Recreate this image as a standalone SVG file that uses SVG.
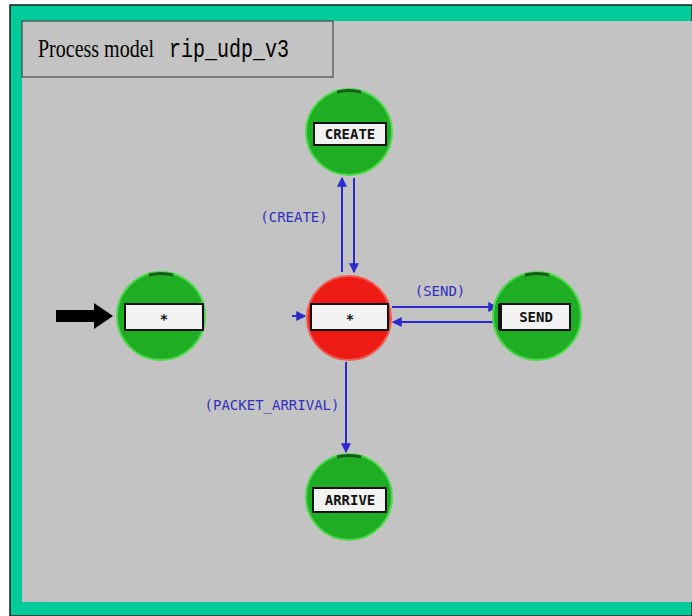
<svg xmlns="http://www.w3.org/2000/svg" width="692" height="616" viewBox="0 0 692 616">
  <defs>
    <style>
      .state-label { font-family: "DejaVu Sans Mono", "Liberation Mono", monospace; font-size: 14px; font-weight: bold; fill: #111; text-anchor: middle; }
      .trans-label { font-family: "DejaVu Sans Mono", "Liberation Mono", monospace; font-size: 14px; fill: #3030c0; text-anchor: middle; }
      .green { fill: #1fae23; stroke: #4ed94e; stroke-width: 2; }
      .red { fill: #ee1c14; stroke: #f25a50; stroke-width: 2; }
      .tag { fill: #f2f2f2; stroke: #111; stroke-width: 2; }
      .cap { fill: none; stroke: #1a5a1a; stroke-width: 3; }
      .edge { stroke: #2a2ad0; stroke-width: 2; fill: none; }
    </style>
    <marker id="head" viewBox="0 0 8 8" refX="7" refY="4" markerWidth="5" markerHeight="5" orient="auto">
      <path d="M0,0 L8,4 L0,8 z" fill="#2a2ad0"/>
    </marker>
  </defs>

  <!-- window background and frame -->
  <rect x="0" y="0" width="692" height="616" fill="#ffffff"/>
  <rect x="10" y="5" width="682" height="611" fill="#00cc99" stroke="#1a1a1a" stroke-width="1.5"/>
  <rect x="22" y="21" width="670" height="581" fill="#c3c3c3"/>

  <!-- title box -->
  <g id="title">
    <rect x="22" y="21" width="311" height="56" fill="#c3c3c3" stroke="#4a4a4a" stroke-width="1.2"/>
    <text transform="translate(38,57) scale(1,1.3)" font-family="Liberation Serif, serif" font-size="20" fill="#000">Process model</text>
    <text transform="translate(169,57) scale(1,1.25)" font-family="Liberation Mono, monospace" font-size="20" fill="#000">rip_udp_v3</text>
  </g>

  <!-- transitions -->
  <g id="connectors">
    <line class="edge" x1="342" y1="272" x2="342" y2="178" marker-end="url(#head)"/>
    <line class="edge" x1="354" y1="178" x2="354" y2="272" marker-end="url(#head)"/>
    <text class="trans-label" x="294" y="222">(CREATE)</text>

    <line class="edge" x1="392" y1="307" x2="497" y2="307" marker-end="url(#head)"/>
    <line class="edge" x1="494" y1="322" x2="393" y2="322" marker-end="url(#head)"/>
    <text class="trans-label" x="440" y="296">(SEND)</text>

    <line class="edge" x1="346" y1="362" x2="346" y2="452" marker-end="url(#head)"/>
    <text class="trans-label" x="272" y="410">(PACKET_ARRIVAL)</text>

    <line class="edge" x1="292" y1="316" x2="305" y2="316" marker-end="url(#head)"/>

    <!-- initial-state arrow -->
    <path d="M56,310 L94,310 L94,303 L113,316 L94,329 L94,322 L56,322 z" fill="#000"/>
  </g>

  <!-- states -->
  <g id="state-create">
    <circle class="green" cx="349" cy="132" r="43"/>
    <path class="cap" d="M337,92 Q349,89 361,92"/>
    <rect class="tag" x="314" y="123" width="72" height="22"/>
    <text class="state-label" x="350" y="139">CREATE</text>
  </g>

  <g id="state-init">
    <circle class="green" cx="161" cy="316" r="44"/>
    <path class="cap" d="M149,275 Q161,272 173,275"/>
    <rect class="tag" x="125" y="304" width="78" height="26"/>
    <text class="state-label" x="164" y="324" font-size="18">*</text>
  </g>

  <g id="state-idle">
    <circle class="red" cx="349" cy="318" r="42"/>
    <rect class="tag" x="311" y="304" width="77" height="26"/>
    <text class="state-label" x="350" y="324" font-size="18">*</text>
  </g>

  <g id="state-send">
    <circle class="green" cx="537" cy="316" r="44"/>
    <path class="cap" d="M525,275 Q537,272 549,275"/>
    <rect class="tag" x="500" y="304" width="70" height="26"/>
    <line x1="500" y1="304" x2="500" y2="330" stroke="#111" stroke-width="4"/>
    <text class="state-label" x="536" y="322">SEND</text>
  </g>

  <g id="state-arrive">
    <circle class="green" cx="349" cy="497" r="43"/>
    <path class="cap" d="M337,457 Q349,454 361,457"/>
    <rect class="tag" x="313" y="488" width="73" height="24"/>
    <text class="state-label" x="350" y="505">ARRIVE</text>
  </g>
</svg>
